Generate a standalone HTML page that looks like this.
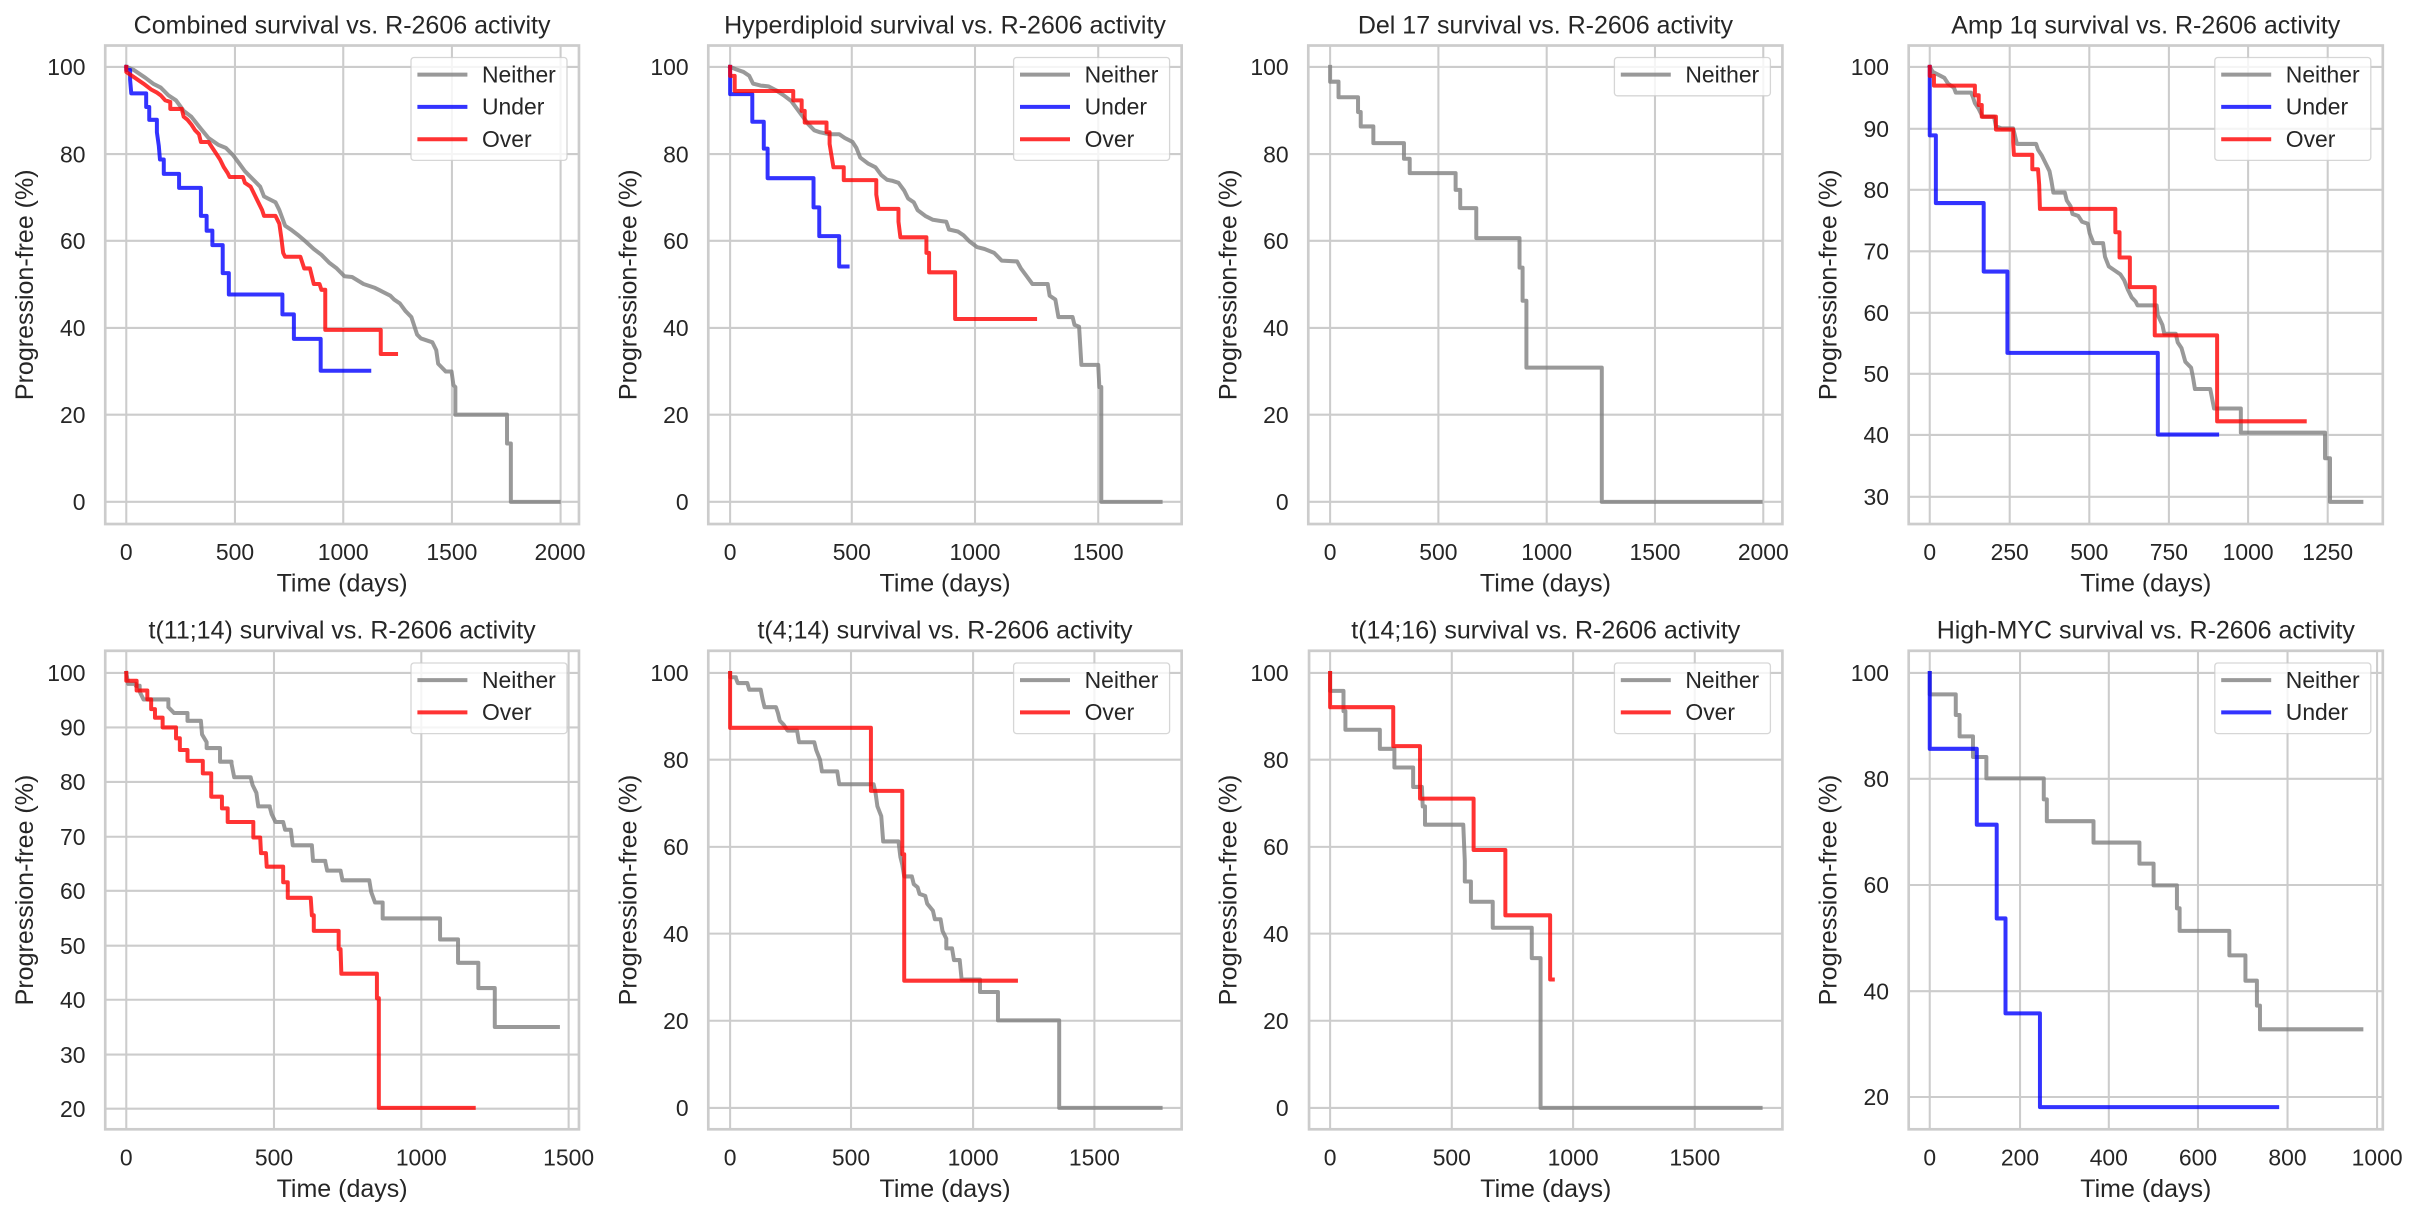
<!DOCTYPE html>
<html><head><meta charset="utf-8"><style>
html,body{margin:0;padding:0;background:#fff;}
svg{display:block;font-family:"Liberation Sans",Arial,sans-serif;}
.g{stroke:#cccccc;stroke-width:5.4;fill:none;}
.s{stroke:#cccccc;stroke-width:7;fill:none;}
.c{fill:none;stroke-width:10.4;stroke-linejoin:round;stroke-linecap:square;stroke-opacity:0.8;}
.lc{fill:none;stroke-width:4;stroke-linecap:square;stroke-opacity:0.8;}
.n{stroke:#808080;} .u{stroke:#0000ff;} .o{stroke:#ff0000;}
.t{font-size:25px;fill:#262626;text-anchor:middle;}
.xt{font-size:22.9px;fill:#262626;text-anchor:middle;}
.yt{font-size:22.9px;fill:#262626;text-anchor:end;}
.lg{font-size:22.9px;fill:#262626;}
.lb{fill:#fff;fill-opacity:0.8;stroke:#cccccc;stroke-opacity:0.8;stroke-width:1.3;}
</style></head><body>
<svg width="2418" height="1218" viewBox="0 0 2418 1218" xmlns="http://www.w3.org/2000/svg">
<rect width="2418" height="1218" fill="#fff"/>

<!-- Panel 1 -->
<g transform="matrix(0.38266,0,0,0.38903,0,0)">
<path class="g" d="M330,117V1347M614,117V1347M897,117V1347M1181,117V1347M1465,117V1347M275,172H1513M275,396H1513M275,619H1513M275,843H1513M275,1066H1513M275,1290H1513"/>
<rect class="s" x="275" y="117" width="1238" height="1230"/>
<path class="c n" d="M330,172 L350,180 L380,200 L400,215 L420,225 L440,245 L460,258 L480,285 L500,300 L520,325 L545,355 L570,372 L590,380 L610,400 L625,420 L640,440 L660,460 L680,480 L690,505 L700,510 L720,520 L730,540 L745,580 L760,590 L780,605 L800,622 L820,640 L840,655 L860,675 L880,690 L900,710 L920,712 L950,730 L980,740 L1000,750 L1020,760 L1030,770 L1045,780 L1060,800 L1075,815 L1080,830 L1090,860 L1100,870 L1130,880 L1140,900 L1145,935 L1165,955 L1180,955 L1185,990 L1190,995 V1066 H1325 V1140 H1335 V1290 H1460"/>
<path class="c u" d="M330,172 V180 H340 V205 L343,240 H382 V275 H390 V308 H410 V340 L415,375 L418,410 H428 V447 H468 V483 H525 V555 H540 V593 H555 V630 H582 V702 H598 V757 H738 V808 H768 V871 H838 V953 H965"/>
<path class="c o" d="M330,172 V185 L345,195 L375,215 L395,230 L410,238 L420,245 L432,258 L445,262 V280 H475 L480,300 L490,308 L500,320 L510,335 L520,345 L525,365 H545 L555,380 L565,395 L575,410 L585,430 L595,445 L600,455 H635 L640,470 L655,480 L665,500 L675,520 L685,540 L690,555 H720 L730,575 L735,610 L740,650 L745,660 H785 L790,675 L795,690 H810 L815,710 L820,730 H835 L840,745 H850 V848 H995 V910 H1035"/>
</g>

<!-- Panel 2 -->
<g transform="matrix(0.38266,0,0,0.38903,600,0)">
<path class="g" d="M340,117V1347M658,117V1347M980,117V1347M1302,117V1347M283,172H1520M283,396H1520M283,619H1520M283,843H1520M283,1066H1520M283,1290H1520"/>
<rect class="s" x="283" y="117" width="1237" height="1230"/>
<path class="c n" d="M340,172 L355,178 L375,185 L390,195 L400,215 L420,220 L440,222 L460,232 L480,245 L500,260 L515,280 L530,300 L545,320 L560,335 L575,340 L600,345 H625 L640,355 L660,365 L670,380 L680,405 L700,420 L720,430 L735,450 L750,462 L765,465 L780,470 L795,490 L805,510 L820,520 L830,540 L850,555 L870,565 L890,568 L905,570 L912,590 L935,595 L950,605 L965,620 L985,635 L1005,640 L1030,650 L1050,670 L1090,672 L1100,690 L1115,710 L1130,730 H1170 L1175,760 L1190,770 L1198,815 H1235 L1240,835 L1252,840 L1258,938 H1302 L1305,995 H1310 V1290 H1465"/>
<path class="c u" d="M340,172 V242 H398 V313 H428 V382 H438 V458 H558 V533 H573 V607 H625 V685 H647"/>
<path class="c o" d="M340,172 V195 H352 V234 H505 V258 H527 V285 H535 V315 H592 V340 H600 V370 L605,400 L610,430 H637 V463 H722 V500 L728,537 H780 V570 L785,610 H853 V650 H860 V700 H928 V820 H1137"/>
</g>

<!-- Panel 3 -->
<g transform="matrix(0.38266,0,0,0.38903,1200,0)">
<path class="g" d="M340,117V1347M623,117V1347M906,117V1347M1189,117V1347M1472,117V1347M283,172H1522M283,396H1522M283,619H1522M283,843H1522M283,1066H1522M283,1290H1522"/>
<rect class="s" x="283" y="117" width="1239" height="1230"/>
<path class="c n" d="M340,172 V210 H362 V250 H413 V288 H420 V325 H453 V368 H533 V408 H548 V445 H668 V488 H680 V535 H722 V612 H835 V688 H843 V773 H853 V945 H1050 V1290 H1465"/>
</g>

<!-- Panel 4 -->
<g transform="matrix(0.38266,0,0,0.38903,1818,0)">
<path class="g" d="M292,117V1347M501,117V1347M709,117V1347M917,117V1347M1124,117V1347M1332,117V1347M237,172H1476M237,331H1476M237,488H1476M237,646H1476M237,804H1476M237,961H1476M237,1118H1476M237,1277H1476"/>
<rect class="s" x="237" y="117" width="1239" height="1230"/>
<path class="c n" d="M292,172 L300,185 L320,195 L330,200 L340,215 L355,225 L360,238 H400 L405,250 L410,265 L420,280 L430,300 H460 L465,325 L480,330 H510 L515,350 L520,370 H570 L575,385 L585,400 L595,420 L605,440 L610,465 L615,495 H645 L650,515 L660,530 L665,550 L680,555 L690,570 L705,575 L710,600 L720,625 H745 L750,660 L760,685 L775,695 L790,705 L800,720 L810,745 L820,765 L830,775 L835,785 H885 L888,810 L900,835 L905,858 H935 L940,880 L950,895 L960,930 L975,945 L980,970 L985,1000 H1025 L1030,1025 L1035,1050 H1105 V1112 H1325 V1178 H1338 V1290 H1420"/>
<path class="c u" d="M292,172 V348 H308 V522 H433 V698 H495 V907 H888 V1117 H1043"/>
<path class="c o" d="M292,172 V195 H303 V220 H410 V245 H420 V270 H428 V300 H465 V333 H510 V365 L512,398 H560 V435 H575 L578,475 L580,537 H777 V597 H788 V662 H815 V738 H880 V862 H1043 V1083 H1272"/>
</g>

<!-- Panel 5 -->
<g transform="matrix(0.38266,0,0,0.38903,0,608)">
<path class="g" d="M330,110V1340M716,110V1340M1101,110V1340M1486,110V1340M275,167H1513M275,307H1513M275,447H1513M275,588H1513M275,727H1513M275,868H1513M275,1007H1513M275,1148H1513M275,1287H1513"/>
<rect class="s" x="275" y="110" width="1238" height="1230"/>
<path class="c n" d="M330,167 L335,195 H355 V200 H365 V215 L375,235 H440 V255 L455,270 H490 V290 H525 L528,325 L540,345 V360 H575 V395 H605 V400 L612,435 H655 L660,455 L670,475 L675,510 H705 V512 L710,530 L720,550 H740 L745,570 H760 L765,610 H815 L818,650 H850 V652 L855,675 H890 L895,700 H965 L970,730 L980,757 H1000 V798 H1150 V852 H1197 V912 H1250 V977 H1293 V1077 H1458"/>
<path class="c o" d="M330,167 V187 H357 V212 H385 V235 H395 V260 H405 V282 H425 V307 H460 V335 H470 V365 H490 V393 H530 V425 H552 V485 H580 V515 H595 V550 H662 V590 H680 L682,630 H695 L697,665 H740 V705 H752 V745 H812 L815,790 H820 V830 H885 V877 H890 L892,940 H985 V1003 H990 V1285 H1238"/>
</g>

<!-- Panel 6 -->
<g transform="matrix(0.38266,0,0,0.38903,600,608)">
<path class="g" d="M340,110V1340M656,110V1340M975,110V1340M1292,110V1340M283,167H1520M283,390H1520M283,614H1520M283,837H1520M283,1061H1520M283,1285H1520"/>
<rect class="s" x="283" y="110" width="1237" height="1230"/>
<path class="c n" d="M340,167 V178 H355 V180 L360,193 H385 L390,210 H420 L425,235 L430,255 H460 L465,270 L470,290 L480,300 L490,315 H515 L520,345 H560 L565,365 L575,390 L580,420 H620 L625,453 H715 L720,475 L725,510 L735,535 L740,600 H780 L785,640 L790,660 L795,690 H815 L820,710 L830,718 L835,735 L850,740 L855,760 L870,778 L875,800 H890 L895,830 L905,850 V875 H920 L925,905 H940 L945,955 H993 V987 H1040 V1060 H1200 V1285 H1465"/>
<path class="c o" d="M340,167 V308 H708 V470 H790 V633 H795 V958 H1087"/>
</g>

<!-- Panel 7 -->
<g transform="matrix(0.38266,0,0,0.38903,1200,608)">
<path class="g" d="M340,110V1340M658,110V1340M975,110V1340M1293,110V1340M285,167H1522M285,390H1522M285,614H1522M285,837H1522M285,1061H1522M285,1285H1522"/>
<rect class="s" x="285" y="110" width="1237" height="1230"/>
<path class="c n" d="M340,167 V213 H375 V265 H380 V313 H470 V362 H508 V410 H557 V460 H580 L582,510 H588 V557 H688 L690,605 L692,650 V703 H708 V755 H765 V822 H867 V900 H890 V1285 H1465"/>
<path class="c o" d="M340,167 V255 H505 V355 H575 V490 H715 V622 H798 V790 H915 V955 H922"/>
</g>

<!-- Panel 8 -->
<g transform="matrix(0.38266,0,0,0.38903,1818,608)">
<path class="g" d="M292,110V1340M528,110V1340M760,110V1340M993,110V1340M1227,110V1340M1461,110V1340M237,167H1476M237,439H1476M237,712H1476M237,985H1476M237,1257H1476"/>
<rect class="s" x="237" y="110" width="1239" height="1230"/>
<path class="c n" d="M292,167 V222 H360 V275 H370 V330 H405 V383 H440 V438 H590 V492 H598 V548 H720 V603 H840 V657 H877 V713 H938 V772 H945 V830 H1075 V893 H1117 V958 H1147 V1022 H1155 V1083 H1420"/>
<path class="c u" d="M292,167 V362 H415 V557 H467 V798 H490 V1042 H580 V1283 H1200"/>
</g>

<!-- Legends -->
<g>
<rect class="lb" x="411" y="57.5" width="156" height="102.9" rx="3"/>
<line class="lc n" x1="419.4" y1="74.6" x2="465.4" y2="74.6"/><text class="lg" x="482" y="82.4">Neither</text>
<line class="lc u" x1="419.4" y1="106.9" x2="465.4" y2="106.9"/><text class="lg" x="482" y="114.7">Under</text>
<line class="lc o" x1="419.4" y1="139.2" x2="465.4" y2="139.2"/><text class="lg" x="482" y="147.0">Over</text>

<rect class="lb" x="1013.6" y="57.5" width="156" height="102.9" rx="3"/>
<line class="lc n" x1="1022" y1="74.6" x2="1068" y2="74.6"/><text class="lg" x="1084.6" y="82.4">Neither</text>
<line class="lc u" x1="1022" y1="106.9" x2="1068" y2="106.9"/><text class="lg" x="1084.6" y="114.7">Under</text>
<line class="lc o" x1="1022" y1="139.2" x2="1068" y2="139.2"/><text class="lg" x="1084.6" y="147.0">Over</text>

<rect class="lb" x="1614.4" y="57.5" width="156" height="38.3" rx="3"/>
<line class="lc n" x1="1622.8" y1="74.6" x2="1668.8" y2="74.6"/><text class="lg" x="1685.4" y="82.4">Neither</text>

<rect class="lb" x="2214.8" y="57.5" width="156" height="102.9" rx="3"/>
<line class="lc n" x1="2223.2" y1="74.6" x2="2269.2" y2="74.6"/><text class="lg" x="2285.8" y="82.4">Neither</text>
<line class="lc u" x1="2223.2" y1="106.9" x2="2269.2" y2="106.9"/><text class="lg" x="2285.8" y="114.7">Under</text>
<line class="lc o" x1="2223.2" y1="139.2" x2="2269.2" y2="139.2"/><text class="lg" x="2285.8" y="147.0">Over</text>

<rect class="lb" x="411" y="663" width="156" height="70.6" rx="3"/>
<line class="lc n" x1="419.4" y1="680.1" x2="465.4" y2="680.1"/><text class="lg" x="482" y="687.9">Neither</text>
<line class="lc o" x1="419.4" y1="712.4" x2="465.4" y2="712.4"/><text class="lg" x="482" y="720.2">Over</text>

<rect class="lb" x="1013.6" y="663" width="156" height="70.6" rx="3"/>
<line class="lc n" x1="1022" y1="680.1" x2="1068" y2="680.1"/><text class="lg" x="1084.6" y="687.9">Neither</text>
<line class="lc o" x1="1022" y1="712.4" x2="1068" y2="712.4"/><text class="lg" x="1084.6" y="720.2">Over</text>

<rect class="lb" x="1614.4" y="663" width="156" height="70.6" rx="3"/>
<line class="lc n" x1="1622.8" y1="680.1" x2="1668.8" y2="680.1"/><text class="lg" x="1685.4" y="687.9">Neither</text>
<line class="lc o" x1="1622.8" y1="712.4" x2="1668.8" y2="712.4"/><text class="lg" x="1685.4" y="720.2">Over</text>

<rect class="lb" x="2214.8" y="663" width="156" height="70.6" rx="3"/>
<line class="lc n" x1="2223.2" y1="680.1" x2="2269.2" y2="680.1"/><text class="lg" x="2285.8" y="687.9">Neither</text>
<line class="lc u" x1="2223.2" y1="712.4" x2="2269.2" y2="712.4"/><text class="lg" x="2285.8" y="720.2">Under</text>
</g>

<!-- Titles -->
<text class="t" x="342.1" y="33.5">Combined survival vs. R-2606 activity</text>
<text class="t" x="945" y="33.5">Hyperdiploid survival vs. R-2606 activity</text>
<text class="t" x="1545.4" y="33.5">Del 17 survival vs. R-2606 activity</text>
<text class="t" x="2145.8" y="33.5">Amp 1q survival vs. R-2606 activity</text>
<text class="t" x="342.1" y="638.5">t(11;14) survival vs. R-2606 activity</text>
<text class="t" x="945" y="638.5">t(4;14) survival vs. R-2606 activity</text>
<text class="t" x="1545.8" y="638.5">t(14;16) survival vs. R-2606 activity</text>
<text class="t" x="2145.8" y="638.5">High-MYC survival vs. R-2606 activity</text>

<!-- X labels -->
<text class="t" x="342.1" y="591.5">Time (days)</text>
<text class="t" x="945" y="591.5">Time (days)</text>
<text class="t" x="1545.4" y="591.5">Time (days)</text>
<text class="t" x="2145.8" y="591.5">Time (days)</text>
<text class="t" x="342.1" y="1197">Time (days)</text>
<text class="t" x="945" y="1197">Time (days)</text>
<text class="t" x="1545.8" y="1197">Time (days)</text>
<text class="t" x="2145.8" y="1197">Time (days)</text>

<!-- Y labels -->
<text class="t" transform="translate(33.2,284.75) rotate(-90)">Progression-free (%)</text>
<text class="t" transform="translate(636.3,284.75) rotate(-90)">Progression-free (%)</text>
<text class="t" transform="translate(1236.3,284.75) rotate(-90)">Progression-free (%)</text>
<text class="t" transform="translate(1836.7,284.75) rotate(-90)">Progression-free (%)</text>
<text class="t" transform="translate(33.2,890) rotate(-90)">Progression-free (%)</text>
<text class="t" transform="translate(636.3,890) rotate(-90)">Progression-free (%)</text>
<text class="t" transform="translate(1236.3,890) rotate(-90)">Progression-free (%)</text>
<text class="t" transform="translate(1836.7,890) rotate(-90)">Progression-free (%)</text>

<!-- X tick labels row 1 -->
<text class="xt" x="126.3" y="560">0</text><text class="xt" x="235" y="560">500</text><text class="xt" x="343.2" y="560">1000</text><text class="xt" x="451.9" y="560">1500</text><text class="xt" x="560" y="560">2000</text>
<text class="xt" x="730.1" y="560">0</text><text class="xt" x="851.8" y="560">500</text><text class="xt" x="975" y="560">1000</text><text class="xt" x="1098.2" y="560">1500</text>
<text class="xt" x="1330.1" y="560">0</text><text class="xt" x="1438.4" y="560">500</text><text class="xt" x="1546.7" y="560">1000</text><text class="xt" x="1655" y="560">1500</text><text class="xt" x="1763.3" y="560">2000</text>
<text class="xt" x="1929.7" y="560">0</text><text class="xt" x="2009.7" y="560">250</text><text class="xt" x="2089.3" y="560">500</text><text class="xt" x="2168.9" y="560">750</text><text class="xt" x="2248.1" y="560">1000</text><text class="xt" x="2327.7" y="560">1250</text>

<!-- X tick labels row 2 -->
<text class="xt" x="126.3" y="1165.3">0</text><text class="xt" x="274" y="1165.3">500</text><text class="xt" x="421.3" y="1165.3">1000</text><text class="xt" x="568.6" y="1165.3">1500</text>
<text class="xt" x="730.1" y="1165.3">0</text><text class="xt" x="851" y="1165.3">500</text><text class="xt" x="973.1" y="1165.3">1000</text><text class="xt" x="1094.4" y="1165.3">1500</text>
<text class="xt" x="1330.1" y="1165.3">0</text><text class="xt" x="1451.8" y="1165.3">500</text><text class="xt" x="1573.1" y="1165.3">1000</text><text class="xt" x="1694.8" y="1165.3">1500</text>
<text class="xt" x="1929.7" y="1165.3">0</text><text class="xt" x="2020" y="1165.3">200</text><text class="xt" x="2108.8" y="1165.3">400</text><text class="xt" x="2198" y="1165.3">600</text><text class="xt" x="2287.5" y="1165.3">800</text><text class="xt" x="2377.1" y="1165.3">1000</text>

<!-- Y tick labels row 1 -->
<text class="yt" x="85.5" y="75.1">100</text><text class="yt" x="85.5" y="162.3">80</text><text class="yt" x="85.5" y="249">60</text><text class="yt" x="85.5" y="336.2">40</text><text class="yt" x="85.5" y="422.9">20</text><text class="yt" x="85.5" y="510">0</text>
<text class="yt" x="688.6" y="75.1">100</text><text class="yt" x="688.6" y="162.3">80</text><text class="yt" x="688.6" y="249">60</text><text class="yt" x="688.6" y="336.2">40</text><text class="yt" x="688.6" y="422.9">20</text><text class="yt" x="688.6" y="510">0</text>
<text class="yt" x="1288.6" y="75.1">100</text><text class="yt" x="1288.6" y="162.3">80</text><text class="yt" x="1288.6" y="249">60</text><text class="yt" x="1288.6" y="336.2">40</text><text class="yt" x="1288.6" y="422.9">20</text><text class="yt" x="1288.6" y="510">0</text>
<text class="yt" x="1889" y="75.1">100</text><text class="yt" x="1889" y="137">90</text><text class="yt" x="1889" y="198">80</text><text class="yt" x="1889" y="259.5">70</text><text class="yt" x="1889" y="321">60</text><text class="yt" x="1889" y="382.1">50</text><text class="yt" x="1889" y="443.1">40</text><text class="yt" x="1889" y="505">30</text>

<!-- Y tick labels row 2 -->
<text class="yt" x="85.5" y="681.2">100</text><text class="yt" x="85.5" y="735.6">90</text><text class="yt" x="85.5" y="790.1">80</text><text class="yt" x="85.5" y="845">70</text><text class="yt" x="85.5" y="899">60</text><text class="yt" x="85.5" y="953.9">50</text><text class="yt" x="85.5" y="1008">40</text><text class="yt" x="85.5" y="1062.8">30</text><text class="yt" x="85.5" y="1116.9">20</text>
<text class="yt" x="688.6" y="681.2">100</text><text class="yt" x="688.6" y="767.9">80</text><text class="yt" x="688.6" y="855.1">60</text><text class="yt" x="688.6" y="941.8">40</text><text class="yt" x="688.6" y="1029">20</text><text class="yt" x="688.6" y="1116.1">0</text>
<text class="yt" x="1288.6" y="681.2">100</text><text class="yt" x="1288.6" y="767.9">80</text><text class="yt" x="1288.6" y="855.1">60</text><text class="yt" x="1288.6" y="941.8">40</text><text class="yt" x="1288.6" y="1029">20</text><text class="yt" x="1288.6" y="1116.1">0</text>
<text class="yt" x="1889" y="681.2">100</text><text class="yt" x="1889" y="787">80</text><text class="yt" x="1889" y="893.2">60</text><text class="yt" x="1889" y="999.4">40</text><text class="yt" x="1889" y="1105.2">20</text>
</svg>
</body></html>
